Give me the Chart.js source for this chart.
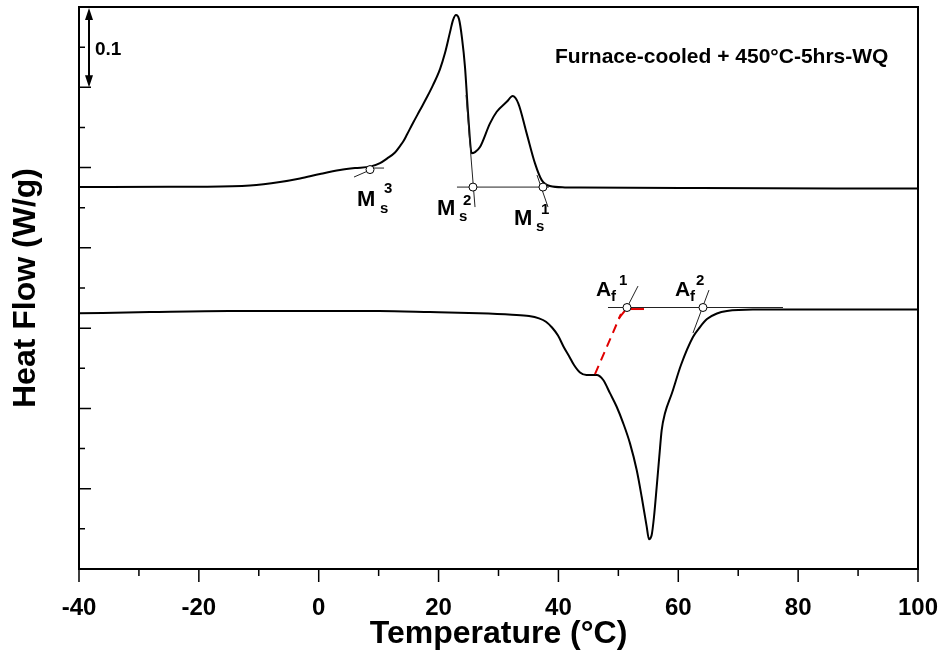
<!DOCTYPE html>
<html>
<head>
<meta charset="utf-8">
<title>DSC - Furnace-cooled + 450°C-5hrs-WQ</title>
<script src="https://cdn.jsdelivr.net/npm/chart.js@4.4.1/dist/chart.umd.min.js"></script>
<style>
  html, body { margin: 0; padding: 0; background: #fff; }
  canvas { display: block; }
</style>
</head>
<body>
<canvas id="dsc" width="941" height="653"></canvas>
<script>
const FONT = '"Liberation Sans", Arial, sans-serif';

// cooling run (upper curve): temperature (°C) / heat flow (W/g, shifted)
const coolT  = [-40, -24.98, -19.81, -11.47, -6.46, -3.12, 0.21, 3.55, 6.05, 8.56, 10.23, 11.39, 12.73, 13.56, 14.15, 14.73, 15.73, 16.9, 18.07,
                19.07, 20.24, 21.07, 21.91, 22.41, 22.91, 23.41, 23.91, 24.41, 24.96, 25.53, 26.08, 26.91, 28.58, 29.7, 31.37,
                32.37, 33.3, 34.7, 36.09, 37.21, 38.59, 41.09, 43.6, 63.62, 100];
const coolHF = [0.4757, 0.476, 0.4761, 0.4776, 0.4819, 0.4863, 0.4919, 0.4969, 0.4994, 0.5012, 0.5056, 0.5112, 0.5187, 0.5268, 0.533, 0.5411, 0.5555, 0.5716, 0.5878,
                0.6027, 0.6227, 0.6426, 0.6687, 0.6837, 0.6899, 0.6849, 0.6613, 0.6252, 0.5633, 0.5177, 0.5193, 0.5255, 0.555, 0.5695, 0.5819,
                0.589, 0.58, 0.5426, 0.5052, 0.4844, 0.477, 0.4753, 0.4751, 0.4745, 0.4738];

// heating run (lower curve)
const heatT  = [-40, -28.15, -14.97, 10.06, 18.57, 26.74, 32.25, 35.09, 36.76, 37.92, 38.93, 39.93, 40.93, 41.76, 42.6, 43.6, 44.68, 46.38,
                47.48, 48.6, 49.72, 50.82, 51.94, 53.06, 53.89, 54.73, 55.11, 55.56, 55.95, 56.4, 56.83, 57.23, 57.78, 58.95,
                60.45, 62.45, 63.62, 64.79, 66.45, 68.12, 72.46, 100];
const heatHF = [0.3184, 0.32, 0.3213, 0.3213, 0.32, 0.3184, 0.3166, 0.3151, 0.3122, 0.308, 0.3008, 0.2908, 0.2759, 0.2653, 0.254, 0.2447, 0.2416, 0.2416,
                0.2354, 0.219, 0.2021, 0.1814, 0.1565, 0.1233, 0.09, 0.0527, 0.037, 0.0423, 0.0651, 0.1025, 0.1399, 0.1731, 0.1939, 0.2192,
                0.2541, 0.2889, 0.3014, 0.3113, 0.3182, 0.3213, 0.3232, 0.3232];

const xMajor = [-40, -20, 0, 20, 40, 60, 80, 100];
const xMinor = [-30, -10, 10, 30, 50, 70, 90];
const yMajor = [0.1, 0.2, 0.3, 0.4, 0.5, 0.6];
const yMinor = [0.05, 0.15, 0.25, 0.35, 0.45, 0.55, 0.65];

// construction lines used to read the transformation temperatures [T1, HF1, T2, HF2]
const tangentLines = [
  [5.89, 0.4882, 8.56, 0.4969], [8.56, 0.4994, 10.9, 0.4994],
  [24.58, 0.5903, 26.08, 0.4508], [23.07, 0.4757, 38.42, 0.4757], [36.42, 0.4907, 38.26, 0.4508],
  [48.27, 0.3257, 77.47, 0.3257], [53.28, 0.3524, 51.44, 0.3257], [65.12, 0.3474, 62.45, 0.2939]
];
const redDashed = [46.1, 0.2428, 50.44, 0.3176];
const redSolid = [[50.1, 0.3126, 51.44, 0.325], [51.94, 0.3238, 54.28, 0.3238]];
const onsetPoints = [[8.56, 0.4975], [25.74, 0.4757], [37.42, 0.4757], [51.44, 0.3257], [64.12, 0.3257]];

// labels: [text, T, HF, font size]
const onsetLabels = [
  ['M', 6.39, 0.4521, 22], ['s', 10.23, 0.4437, 15], ['3', 10.89, 0.4682, 15],
  ['M', 19.74, 0.4408, 22], ['s', 23.41, 0.4334, 15], ['2', 24.08, 0.4533, 15],
  ['M', 32.59, 0.4284, 22], ['s', 36.26, 0.4209, 15], ['1', 37.09, 0.4421, 15],
  ['A', 46.27, 0.34, 21], ['f', 48.77, 0.3337, 15], ['1', 50.1, 0.3537, 15],
  ['A', 59.45, 0.34, 21], ['f', 61.95, 0.3337, 15], ['2', 62.95, 0.3537, 15]
];
const sampleText = ['Furnace-cooled + 450°C-5hrs-WQ', 39.43, 0.6301];
const scaleBar = { T: -38.33, from: 0.6, to: 0.7, label: '0.1' };

const toPoints = (xs, ys) => xs.map((t, i) => ({ x: t, y: ys[i] }));

const overlay = {
  id: 'overlay',
  afterDatasetsDraw(chart) {
    const { ctx, chartArea: a, scales: { x, y } } = chart;
    const px = v => x.getPixelForValue(v);
    const py = v => y.getPixelForValue(v);
    const seg = (x1, y1, x2, y2) => {
      ctx.beginPath(); ctx.moveTo(px(x1), py(y1)); ctx.lineTo(px(x2), py(y2)); ctx.stroke();
    };
    ctx.save();

    // frame
    ctx.strokeStyle = '#000';
    ctx.lineWidth = 2;
    ctx.strokeRect(a.left, a.top, a.right - a.left, a.bottom - a.top);

    // x ticks point outward, y ticks inward
    ctx.lineWidth = 1.5;
    ctx.beginPath();
    xMajor.forEach(v => { ctx.moveTo(px(v), a.bottom); ctx.lineTo(px(v), a.bottom + 13); });
    xMinor.forEach(v => { ctx.moveTo(px(v), a.bottom); ctx.lineTo(px(v), a.bottom + 7); });
    yMajor.forEach(v => { ctx.moveTo(a.left, py(v)); ctx.lineTo(a.left + 12, py(v)); });
    yMinor.forEach(v => { ctx.moveTo(a.left, py(v)); ctx.lineTo(a.left + 6, py(v)); });
    ctx.stroke();

    // construction lines
    ctx.strokeStyle = '#222';
    ctx.lineWidth = 1;
    tangentLines.forEach(l => seg(...l));

    ctx.strokeStyle = '#e00000';
    ctx.lineWidth = 2;
    redSolid.forEach(l => seg(...l));
    ctx.setLineDash([9, 6]);
    seg(...redDashed);
    ctx.setLineDash([]);

    // onset markers
    ctx.strokeStyle = '#000';
    ctx.lineWidth = 1;
    ctx.fillStyle = '#fff';
    onsetPoints.forEach(([t, h]) => {
      ctx.beginPath(); ctx.arc(px(t), py(h), 4, 0, Math.PI * 2); ctx.fill(); ctx.stroke();
    });

    // text
    ctx.fillStyle = '#000';
    ctx.textBaseline = 'alphabetic';
    ctx.textAlign = 'left';
    onsetLabels.forEach(([s, t, h, size]) => {
      ctx.font = 'bold ' + size + 'px ' + FONT;
      ctx.fillText(s, px(t), py(h));
    });
    ctx.font = 'bold 21px ' + FONT;
    ctx.fillText(sampleText[0], px(sampleText[1]), py(sampleText[2]));

    // 0.1 W/g scale bar
    const bx = px(scaleBar.T), b1 = py(scaleBar.from), b2 = py(scaleBar.to);
    ctx.lineWidth = 2;
    ctx.beginPath(); ctx.moveTo(bx, b1 - 10); ctx.lineTo(bx, b2 + 10); ctx.stroke();
    ctx.beginPath();
    ctx.moveTo(bx, b2 + 1); ctx.lineTo(bx - 4, b2 + 13); ctx.lineTo(bx + 4, b2 + 13); ctx.closePath();
    ctx.moveTo(bx, b1); ctx.lineTo(bx - 4, b1 - 12); ctx.lineTo(bx + 4, b1 - 12); ctx.closePath();
    ctx.fill();
    ctx.font = 'bold 19px ' + FONT;
    ctx.fillText(scaleBar.label, bx + 6, py(0.6401));

    ctx.restore();
  }
};

new Chart(document.getElementById('dsc'), {
  type: 'line',
  data: {
    datasets: [
      { label: 'cooling', data: toPoints(coolT, coolHF) },
      { label: 'heating', data: toPoints(heatT, heatHF) }
    ]
  },
  options: {
    responsive: false,
    animation: false,
    events: [],
    layout: { padding: { top: 7, right: 23, left: 0, bottom: 0 } },
    elements: {
      line: { borderColor: '#000', borderWidth: 2, cubicInterpolationMode: 'monotone' },
      point: { radius: 0 }
    },
    plugins: { legend: { display: false }, tooltip: { enabled: false } },
    scales: {
      x: {
        type: 'linear', min: -40, max: 100,
        afterBuildTicks: s => { s.ticks = xMajor.map(v => ({ value: v })); },
        afterFit: s => { s.height = 84; s.paddingLeft = 0; s.paddingRight = 0; },
        grid: { display: false, drawTicks: false },
        border: { display: false },
        ticks: { color: '#000', padding: 25, maxRotation: 0, autoSkip: false,
                 font: { family: FONT, size: 24, weight: 'bold' } },
        title: { display: true, text: 'Temperature (°C)', color: '#000', padding: 0,
                 font: { family: FONT, size: 32, weight: 'bold' } }
      },
      y: {
        type: 'linear', min: 0, max: 0.7,
        afterFit: s => { s.width = 79; },
        grid: { display: false, drawTicks: false },
        border: { display: false },
        ticks: { display: false },
        title: { display: true, text: 'Heat Flow (W/g)', color: '#000', padding: 7,
                 font: { family: FONT, size: 32, weight: 'bold' } }
      }
    }
  },
  plugins: [overlay]
});
</script>
</body>
</html>
